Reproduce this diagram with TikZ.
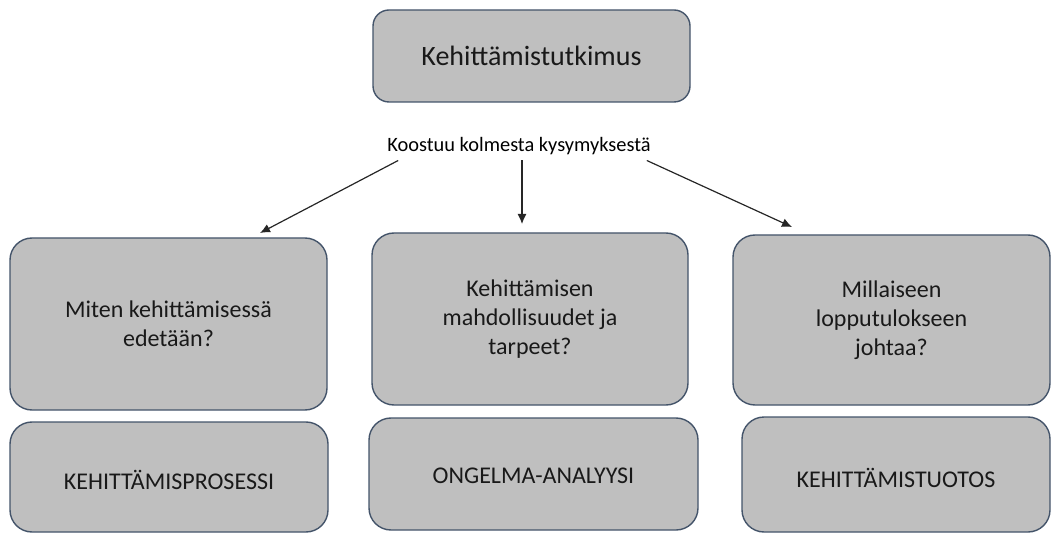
\documentclass[tikz,border=0pt]{standalone}
\usepackage{fontspec}
\setmainfont{Carlito}
\usetikzlibrary{arrows.meta,calc}

\definecolor{boxfill}{RGB}{191,191,191}
\definecolor{boxline}{RGB}{68,84,106}

\begin{document}
\begin{tikzpicture}[x=1pt,y=-1pt,>={Latex[length=10pt,width=9pt]},
	kbox/.style={draw=boxline,fill=boxfill,line width=1.4pt,rounded corners=22pt,
		align=center,inner sep=0pt,text=black!90,font=\fontsize{24}{29}\selectfont},
	vbox/.style={kbox,text height=25.4pt,text depth=0pt},
	arr/.style={->,line width=1.2pt,color=black!85}]

\useasboundingbox (0,0) rectangle (1054,534);

\node[kbox,rounded corners=16pt,minimum width=317pt,minimum height=92pt,
	font=\fontsize{28}{34}\selectfont] (tutkimus) at (531.5,56) {Kehittämistutkimus};

\node[font=\fontsize{20.4}{24}\selectfont,inner sep=0pt,anchor=base] (koostuu) at (519,152)
	{Koostuu kolmesta kysymyksestä};

% kysymykset
\node[kbox,minimum width=317pt,minimum height=172pt] (kysA) at (168.5,324)
	{Miten kehittämisessä\\edetään?};
\node[kbox,minimum width=316pt,minimum height=172pt] (kysB) at (530,319)
	{Kehittämisen\\mahdollisuudet ja\\tarpeet?};
\node[kbox,minimum width=317pt,minimum height=170pt] (kysC) at (891.5,320)
	{Millaiseen\\lopputulokseen\\johtaa?};

% vastaukset
\node[vbox,minimum width=318pt,minimum height=110pt] (vastA) at (169,477) {KEHITTÄMISPROSESSI};
\node[vbox,text height=19.4pt,minimum width=329pt,minimum height=112pt] (vastB) at (533.5,474)
	{ONGELMA-ANALYYSI};
\node[vbox,minimum width=308pt,minimum height=115pt] (vastC) at (896,474.5) {KEHITTÄMISTUOTOS};

\coordinate (kA) at (260,233);
\coordinate (kB) at (522,224);
\coordinate (kC) at (792,227);

\draw[arr] ($(koostuu.south west)+(11,5)$)--(kA);
\draw[arr] ($(koostuu.south)+(3,5)$)--(kB);
\draw[arr] ($(koostuu.south east)+(-4,5)$)--(kC);

\end{tikzpicture}
\end{document}
